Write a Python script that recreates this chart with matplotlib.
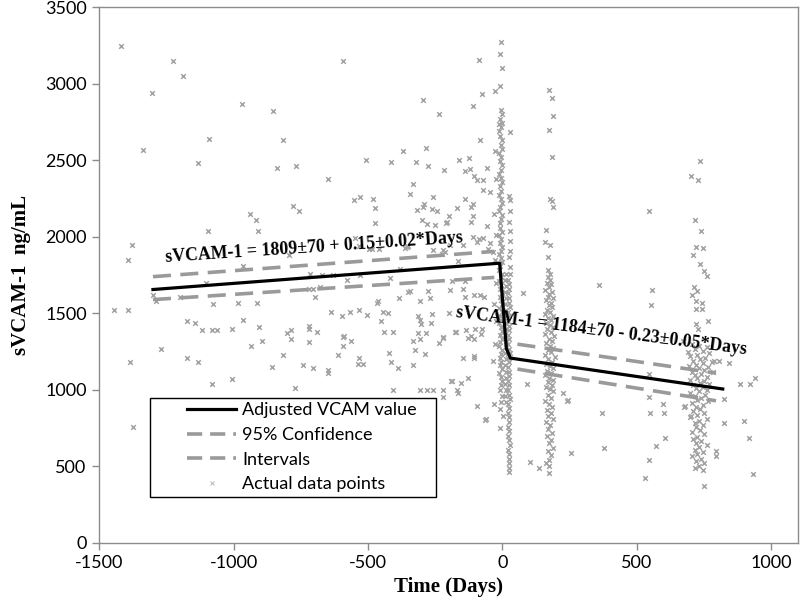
import numpy as np
import matplotlib
matplotlib.use("Agg")
import matplotlib.pyplot as plt
from matplotlib.lines import Line2D
from matplotlib.legend_handler import HandlerLine2D

plt.rcParams['axes.unicode_minus'] = False


# Scattered measurements before baseline (days, ng/mL)
pre_points = [
    (-1420, 3250), (-1392, 1850), (-1377, 1950), (-1302, 2940), (-1336, 2570), (-1224, 3150),
    (-1187, 3050), (-1134, 2480), (-1090, 2640), (-1097, 2040), (-970, 2870), (-940, 2150),
    (-918, 2110), (-910, 2040), (-854, 2820), (-817, 2630), (-840, 2450), (-768, 2460),
    (-780, 2200), (-757, 2170), (-593, 3150), (-649, 2380), (-552, 2240), (-530, 2260),
    (-508, 2500), (-481, 2250), (-474, 2190), (-474, 2090), (-414, 2490),
    (-795, 1880), (-966, 1810), (-1101, 1700), (-1299, 1620), (-1201, 1610), (-716, 1760),
    (-672, 1750), (-631, 1750), (-578, 1720), (-530, 1750), (-533, 1940), (-496, 1920),
    (-485, 1920), (-459, 1920), (-548, 1990), (-418, 1730), (-720, 1660), (-679, 1675),
    (-698, 1610), (-705, 1662),
    (-1444, 1520), (-1392, 1520), (-1384, 1180), (-1373, 760), (-1269, 1270), (-1287, 1580),
    (-1175, 1210), (-1175, 1450), (-1145, 1440), (-1131, 1180), (-1119, 1390), (-1082, 1040),
    (-1078, 1560), (-1082, 1390), (-1060, 1390), (-1007, 1400), (-1007, 1070), (-985, 1570),
    (-966, 1460), (-937, 1290), (-914, 1570), (-907, 1410), (-895, 1320), (-858, 1150),
    (-817, 1230), (-802, 1370), (-787, 1390), (-787, 1330), (-772, 1010), (-743, 1160),
    (-720, 1420), (-720, 1400), (-720, 1310), (-705, 1140), (-690, 1380), (-649, 1130),
    (-649, 1110), (-638, 1510), (-612, 1230), (-597, 1480), (-590, 1350), (-593, 1290),
    (-567, 1510), (-563, 1320), (-534, 1520), (-534, 1210), (-537, 1170), (-519, 1170),
    (-504, 1490), (-466, 1570), (-451, 1450), (-444, 1510), (-425, 1500), (-440, 1380),
    (-407, 1380), (-421, 1240), (-414, 1180), (-407, 1000), (-388, 1140),
    (-369, 2560), (-284, 2580), (-321, 2490), (-276, 2460), (-216, 2435), (-332, 2345),
    (-343, 2280), (-257, 2260), (-317, 2175), (-295, 2195), (-261, 2180), (-243, 2170),
    (-168, 2190), (-299, 2110), (-280, 2085), (-250, 2080), (-205, 2100), (-354, 1935),
    (-257, 1915), (-224, 1885), (-295, 2896), (-235, 2805), (-291, 2214), (-362, 1929),
    (-351, 1942), (-93, 1968), (-52, 1922), (-351, 1643), (-138, 1714),
    (-381, 1790), (-343, 1645), (-306, 1580), (-276, 1645), (-269, 1600), (-194, 1655),
    (-463, 1578), (-384, 1600), (-313, 1480), (-306, 1455), (-302, 1430), (-261, 1495),
    (-265, 1435), (-198, 1505), (-593, 1345), (-332, 1320), (-306, 1330), (-313, 1370),
    (-284, 1370), (-220, 1345), (-235, 1305), (-175, 1380), (-325, 1260), (-287, 1235),
    (-332, 1160), (-306, 1000), (-280, 1000), (-257, 1000), (-220, 1000), (-220, 955),
    (-187, 1058), (-168, 1000),
    (-86, 3156), (-26, 2955), (-75, 2935), (-108, 2857), (-82, 2636), (-160, 2500),
    (-123, 2513), (-138, 2430), (-119, 2442), (-56, 2448), (-104, 2396), (-93, 2370),
    (-71, 2370), (-71, 2305), (-45, 2292), (-138, 2247), (-108, 2214), (-116, 2195),
    (-198, 2136), (-108, 2136), (-209, 2091), (-116, 2097), (-56, 2071), (-86, 1987),
    (-71, 1994), (-108, 2000), (-146, 1948), (-45, 1961), (-194, 1948), (-164, 1844),
    (-220, 1916), (-213, 1903), (-34, 1903),
    (-187, 1714), (-146, 1662), (-138, 1610), (-104, 1623), (-82, 1623), (-67, 1610),
    (-172, 1377), (-134, 1390), (-101, 1396), (-75, 1396), (-220, 1338), (-127, 1340),
    (-116, 1355), (-104, 1330), (-78, 1365), (-146, 1208), (-104, 1221), (-104, 1208),
    (-34, 1188), (-190, 1058), (-153, 1045), (-127, 1078), (-93, 896), (-30, 909),
    (-63, 805), (-164, 981), (-60, 812),
    (-28, 2560), (-25, 2380), (-30, 2150), (-24, 2010), (-28, 1850), (-25, 1700),
    (-30, 1560), (-24, 1450), (-27, 1300),
]

# Baseline visit, dense column around day 0
base_points = [
    (-4, 3273), (-7, 3195), (0, 3104), (-7, 2987), (30, 2688), (-12, 2740),
    (-5, 2830), (-3, 2800), (-9, 2770), (-2, 2745), (-5, 2720), (-11, 2690), (-8, 2660),
    (-3, 2635), (-5, 2600), (-1, 2575), (-12, 2550), (-4, 2520), (-9, 2495), (-2, 2470),
    (-6, 2440), (-13, 2410), (-5, 2385), (-1, 2360), (-7, 2330), (-4, 2300), (-11, 2275),
    (-6, 2250), (-3, 2220), (-8, 2195), (-14, 2170), (-1, 2140), (-5, 2115), (-10, 2090),
    (-7, 2060), (-2, 2035), (-12, 2010), (-4, 1985), (-9, 1960), (-1, 1935), (-6, 1910),
    (-13, 1885), (-5, 1860), (-2, 1835), (-7, 1810), (-11, 1785), (-1, 1760), (-6, 1735),
    (-14, 1710), (-5, 1685), (-8, 1660), (-2, 1635), (-10, 1610), (-6, 1585), (-1, 1560),
    (-12, 1535), (-3, 1510), (-7, 1485), (-4, 1460), (-11, 1435), (-6, 1410), (-3, 1385),
    (-9, 1360), (-1, 1335), (-7, 1310), (-13, 1285), (-2, 1260), (-6, 1235), (-10, 1210),
    (-5, 1185), (-8, 1160), (-2, 1135), (-12, 1110), (-6, 1085), (-1, 1060), (-4, 1030),
    (-7, 1000), (-3, 960), (-5, 920),
    (12, 1760), (9, 1720), (14, 1680), (10, 1640), (13, 1600), (8, 1560), (12, 1520),
    (15, 1480), (10, 1440), (13, 1400), (9, 1360), (12, 1320), (14, 1280), (10, 1240),
    (13, 1200), (8, 1160), (12, 1120), (15, 1080), (10, 1040), (13, 1000), (9, 960),
    (12, 920), (-7, 877), (-7, 753), (3, 830),
    (26, 2270), (30, 2240), (28, 2170), (25, 2100), (30, 2040), (27, 1970), (30, 1910),
    (24, 1870), (30, 1805), (27, 1755), (22, 1720), (26, 1690), (24, 1660), (21, 1630),
    (25, 1600), (23, 1570), (27, 1540), (22, 1510), (25, 1480), (20, 1450), (24, 1420),
    (26, 1390), (22, 1360), (25, 1330), (21, 1300), (24, 1270), (27, 1240), (22, 1210),
    (25, 1180), (20, 1150), (24, 1120), (26, 1090), (22, 1060), (25, 1030), (21, 1000),
    (24, 970), (27, 940), (22, 910), (25, 880), (20, 850), (24, 820), (26, 790), (22, 760),
    (25, 730), (21, 700), (24, 670), (27, 640), (22, 610), (25, 580), (23, 550), (26, 520),
    (24, 490), (26, 461), (93, 1039), (78, 1630), (104, 532),
]

# Six month visit, column around day 180
m6_points = [
    (172, 2961), (183, 2909), (187, 2792), (175, 2695), (183, 2519), (179, 2247),
    (183, 2234), (190, 2195), (164, 2045), (160, 1968), (179, 1948), (168, 1870),
    (168, 1786), (179, 1760),
    (170, 1740), (178, 1720), (165, 1700), (182, 1690), (172, 1670), (160, 1655),
    (186, 1640), (175, 1625), (168, 1610), (190, 1600), (162, 1585), (180, 1570),
    (172, 1555), (185, 1540), (165, 1525), (178, 1510), (158, 1495), (190, 1485),
    (170, 1470), (182, 1455), (163, 1440), (176, 1425), (188, 1410), (167, 1395),
    (180, 1380), (160, 1365), (193, 1350), (172, 1335), (184, 1320), (164, 1305),
    (177, 1290), (190, 1275), (168, 1260), (181, 1245), (158, 1230), (195, 1215),
    (171, 1200), (185, 1185), (163, 1170), (178, 1155), (190, 1140), (166, 1125),
    (182, 1110), (160, 1095), (175, 1080), (188, 1065), (170, 1050), (183, 1035),
    (164, 1020), (177, 1005), (190, 990), (168, 970), (180, 950), (160, 930), (175, 910),
    (186, 890), (166, 870), (180, 850), (170, 830), (188, 810), (162, 790), (178, 770),
    (170, 745), (185, 720), (165, 700), (180, 675), (172, 650), (190, 620), (168, 600),
    (182, 575), (175, 545), (162, 520), (138, 487), (172, 500), (172, 455),
    (224, 980), (239, 929), (254, 591), (243, 935),
]

# Two year visit, column around day 730
y2_points = [
    (735, 2494), (701, 2396), (728, 2370), (716, 2110), (739, 2039), (720, 1935),
    (746, 1929), (709, 1883), (735, 1825), (750, 1779), (761, 1747), (713, 1675),
    (724, 1649), (705, 1623), (720, 1578), (743, 1571), (720, 1530), (743, 1530),
    (765, 1448), (720, 1429), (728, 1396), (672, 1318),
    (705, 1300), (730, 1290), (760, 1280), (715, 1265), (745, 1255), (690, 1245),
    (770, 1240), (725, 1230), (700, 1220), (755, 1210), (735, 1200), (710, 1190),
    (780, 1185), (745, 1175), (720, 1165), (695, 1155), (765, 1150), (730, 1140),
    (750, 1130), (705, 1120), (785, 1115), (740, 1105), (715, 1095), (760, 1085),
    (725, 1075), (700, 1065), (750, 1055), (735, 1045), (770, 1040), (710, 1030),
    (745, 1020), (720, 1010), (760, 1000), (730, 990), (700, 980), (755, 970), (715, 960),
    (740, 950), (725, 935), (765, 925), (705, 915), (745, 900), (720, 890), (735, 875),
    (710, 860), (750, 850), (725, 835), (700, 820), (760, 810), (730, 800), (715, 785),
    (745, 770), (720, 755), (735, 740), (705, 725), (750, 710), (725, 695), (710, 680),
    (740, 665), (720, 650), (760, 640), (730, 625), (715, 610), (745, 595), (725, 580),
    (705, 565), (740, 550), (720, 535), (750, 520), (730, 505), (715, 490), (745, 475),
    (750, 370), (795, 604), (795, 571),
]

# Other follow-up measurements between and after the visits
post_points = [
    (884, 1039), (921, 1039), (940, 1078), (825, 942), (843, 1175), (899, 799), (918, 688),
    (933, 448), (825, 786), (787, 1188), (806, 1188), (530, 422), (545, 539), (571, 636),
    (604, 688), (545, 955), (549, 851), (597, 909), (601, 851), (552, 1552), (545, 1104),
    (369, 851), (377, 623), (675, 890), (701, 831), (679, 896), (358, 1688), (545, 2169),
    (556, 1656),
]

# Fitted model and 95% confidence limits
fit_days = [-1300, -10, 15, 30, 820]
fit_vals = [1656, 1828, 1270, 1208, 1006]
ci_pre_days = [-1300, -30]
ci_pre_upper = [1740, 1905]
ci_pre_lower = [1590, 1735]
ci_post_days = [56, 795]
ci_post_upper = [1299, 1110]
ci_post_lower = [1136, 929]

eq_pre = "sVCAM-1 = 1809\u00b170 + 0.15\u00b10.02*Days"
eq_post = "sVCAM-1 = 1184\u00b170 - 0.23\u00b10.05*Days"

legend_labels = ['Adjusted VCAM value', '95% Confidence', 'Intervals', 'Actual data points']


class ShiftedHandler(HandlerLine2D):
    """Draw the legend sample only in the right part of the handle box."""

    def create_artists(self, legend, orig_handle, xdescent, ydescent,
                       width, height, fontsize, trans):
        shift = 0.4 * width
        return super().create_artists(legend, orig_handle, xdescent - shift, ydescent,
                                      width - shift, height, fontsize, trans)


all_points = pre_points + base_points + m6_points + y2_points + post_points
days = np.array([p[0] for p in all_points])
vals = np.array([p[1] for p in all_points])

GREY = '#a3a3a3'
DASH_GREY = '#9a9a9a'
SERIF = 'Liberation Serif'

fig = plt.figure(figsize=(8, 6.06), dpi=100)
ax = fig.add_axes([0.124, 0.104, 0.8735, 0.884])

ax.scatter(days, vals, marker='x', s=11, linewidths=1.1, color=GREY, zorder=2)

dash = (5, 2.6)
ax.plot(ci_pre_days, ci_pre_upper, color=DASH_GREY, lw=2.6, dashes=dash, zorder=3)
ax.plot(ci_pre_days, ci_pre_lower, color=DASH_GREY, lw=2.6, dashes=dash, zorder=3)
ax.plot(ci_post_days, ci_post_upper, color=DASH_GREY, lw=2.6, dashes=dash, zorder=3)
ax.plot(ci_post_days, ci_post_lower, color=DASH_GREY, lw=2.6, dashes=dash, zorder=3)
ax.plot(fit_days, fit_vals, color='black', lw=2.3, zorder=4)

ax.text(-700, 1930, eq_pre, family=SERIF, fontweight='bold', fontsize=12.9,
        rotation=3.8, rotation_mode='anchor', ha='center', va='center', zorder=5)
ax.text(370, 1383, eq_post, family=SERIF, fontweight='bold', fontsize=12.9,
        rotation=-7.3, rotation_mode='anchor', ha='center', va='center', zorder=5)

ax.set_xlim(-1500, 1100)
ax.set_ylim(0, 3500)
ax.set_xticks(np.arange(-1500, 1001, 500))
ax.set_yticks(np.arange(0, 3501, 500))

for s in ax.spines.values():
    s.set_color('#8c8c8c')
    s.set_linewidth(1.0)
ax.tick_params(direction='out', length=5, color='#8c8c8c', width=1.0,
               labelsize=13, pad=4)
for lab in ax.get_xticklabels() + ax.get_yticklabels():
    lab.set_family('Lato')

ax.set_xlabel('Time (Days)', family=SERIF, fontweight='bold', fontsize=15, labelpad=4)
ax.set_ylabel('sVCAM-1  ng/mL', family=SERIF, fontweight='bold', fontsize=15, labelpad=10)

handles = [
    Line2D([], [], color='black', lw=2.3),
    Line2D([], [], color=DASH_GREY, lw=2.6, dashes=(4.2, 2.2)),
    Line2D([], [], color=DASH_GREY, lw=2.6, dashes=(4.2, 2.2)),
    Line2D([], [], color='#c0c0c0', lw=0, marker='x', markersize=3.5, markeredgewidth=0.8),
]
leg = ax.legend(handles, legend_labels, loc='lower left',
                bbox_to_anchor=(0.073, 0.086, 0.409, 0.187), mode='expand',
                borderaxespad=0, fancybox=False, framealpha=1, edgecolor='black',
                prop={'family': 'Lato', 'size': 13}, handlelength=4.5,
                labelspacing=0.48, borderpad=0.25, handletextpad=0.35,
                handler_map={Line2D: ShiftedHandler()})
leg.get_frame().set_linewidth(1.0)
leg.set_zorder(6)

fig.savefig('out.png', dpi=100)
